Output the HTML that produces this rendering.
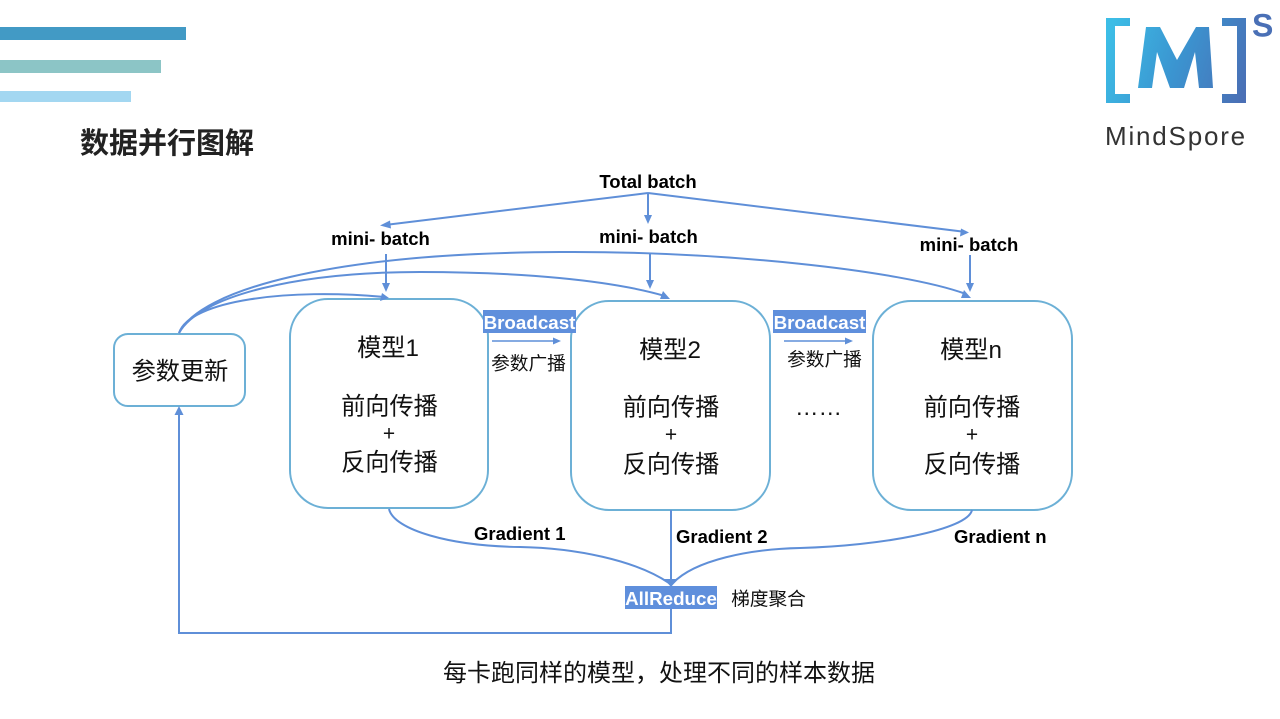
<!DOCTYPE html>
<html>
<head>
<meta charset="utf-8">
<style>
html,body{margin:0;padding:0;background:#fff;width:1280px;height:719px;overflow:hidden}
svg{display:block}
text{font-family:"Liberation Sans","WenQuanYi Zen Hei","Noto Sans CJK SC",sans-serif;fill:#111}
.b{font-weight:bold;font-size:18.500px;fill:#000}
.c{text-anchor:middle}
.z{font-size:24.200px;text-anchor:middle}
.p{font-size:21px;text-anchor:middle}
.w{font-weight:bold;font-size:18.800px;fill:#fff;text-anchor:middle}
.s{font-size:18.700px;text-anchor:middle}
.box{fill:none;stroke:#6cb0d6;stroke-width:2}
.l{fill:none;stroke:#5f8fd8;stroke-width:2}
.t{fill:none;stroke:#5f8fd8;stroke-width:1.500}
.a{fill:#5f8fd8}
</style>
</head>
<body>
<svg width="1280" height="719" viewBox="0 0 1280 719" xmlns="http://www.w3.org/2000/svg">
<defs>
<linearGradient id="g" gradientUnits="userSpaceOnUse" x1="1106" y1="40" x2="1246" y2="90">
<stop offset="0" stop-color="#3cbde6"/><stop offset="0.5" stop-color="#3b94d0"/><stop offset="1" stop-color="#4a6fb5"/>
</linearGradient>
</defs>
<rect width="1280" height="719" fill="#fff"/>
<rect x="0" y="27" width="186" height="13" fill="#429ac5"/>
<rect x="0" y="60" width="161" height="13" fill="#8cc5c6"/>
<rect x="0" y="91" width="131" height="11" fill="#a3d7f1"/>
<text x="80" y="153" style="font-family:'Noto Sans CJK SC',sans-serif;font-weight:bold;font-size:29px;fill:#222">数据并行图解</text>

<path fill="url(#g)" d="M1106 18h24v8h-15v68h15v9h-24z"/>
<path fill="url(#g)" d="M1222 18h24v85h-24v-9h15v-68h-15z"/>
<path fill="url(#g)" d="M1138 88L1146 27H1160L1177 60L1196 27H1209L1213 88H1199L1195 52L1184 88H1170L1157 52L1152 88Z"/>
<text x="1252" y="36.500" style="font-weight:bold;font-size:32px;fill:#4a70b6">S</text>
<text x="1105" y="145" style="font-size:26px;letter-spacing:1.800px;fill:#333">MindSpore</text>

<rect class="box" x="114" y="334" width="131" height="72" rx="14"/>
<rect class="box" x="290" y="299" width="198" height="209" rx="38"/>
<rect class="box" x="571" y="301" width="199" height="209" rx="38"/>
<rect class="box" x="873" y="301" width="199" height="209" rx="38"/>

<path class="l" d="M648 193L385 225"/>
<path class="a" d="M380 225.500l10-5 1 8z"/>
<path class="l" d="M648 193V218"/>
<path class="a" d="M648 224l-4-9h8z"/>
<path class="l" d="M648 193L966 232"/>
<path class="a" d="M969 232.500l-9 4 1-8z"/>

<path class="l" d="M386 254V288"/><path class="a" d="M386 292l-4-9h8z"/>
<path class="l" d="M650 253V286"/><path class="a" d="M650 289l-4-9h8z"/>
<path class="l" d="M970 255V288"/><path class="a" d="M970 292l-4-9h8z"/>

<path class="l" d="M179 333C190 300 290 288 384 297"/>
<path class="a" d="M389 298l-9 3 2-8z"/>
<path class="l" d="M179 333C200 295 300 272 420 272C520 272 610 280 665 296"/>
<path class="a" d="M670 299l-10 0 3-8z"/>
<path class="l" d="M179 333C200 290 330 253 560 252C720 251 900 270 966 294"/>
<path class="a" d="M971 298l-10 0 3-8z"/>

<path class="l" d="M671 510V586"/>
<path class="l" d="M389 509C394 530 450 546 520 547C575 548 635 560 669 583"/>
<path class="l" d="M972 510C968 530 880 546 800 548C750 549 695 560 673 583"/>
<path class="a" d="M671 587l-7-8h14z"/>
<path class="l" d="M671 608V633H179V412"/>
<path class="a" d="M179 406l4.500 9h-9z"/>

<rect x="483" y="310" width="93" height="23" fill="#5f8fdc"/>
<text class="w" x="529.500" y="329">Broadcast</text>
<rect x="773" y="310" width="93" height="23" fill="#5f8fdc"/>
<text class="w" x="819.500" y="329">Broadcast</text>
<rect x="625" y="586" width="92" height="23" fill="#5f8fdc"/>
<text class="w" x="671" y="605">AllReduce</text>

<path class="t" d="M492 341H556"/><path class="a" d="M561 341l-8-3.500v7z"/>
<path class="t" d="M784 341H848"/><path class="a" d="M853 341l-8-3.500v7z"/>

<text class="b c" x="648" y="188">Total batch</text>
<text class="b c" x="380.500" y="245">mini- batch</text>
<text class="b c" x="648.500" y="243">mini- batch</text>
<text class="b c" x="969" y="251">mini- batch</text>

<text class="z" x="180" y="379.500">参数更新</text>

<text class="z" x="388" y="356">模型1</text>
<text class="z" x="389.500" y="414.500">前向传播</text>
<text class="p" x="389" y="440.500">+</text>
<text class="z" x="389.500" y="470.500">反向传播</text>

<text class="z" x="670" y="358">模型2</text>
<text class="z" x="671" y="415.500">前向传播</text>
<text class="p" x="671" y="441.500">+</text>
<text class="z" x="671" y="472.500">反向传播</text>

<text class="z" x="971" y="358">模型n</text>
<text class="z" x="972" y="415.500">前向传播</text>
<text class="p" x="972" y="441.500">+</text>
<text class="z" x="972" y="472.500">反向传播</text>

<text class="s" x="528.500" y="370">参数广播</text>
<text class="s" x="824.500" y="366">参数广播</text>
<text x="818.500" y="415" style="font-size:23.500px;text-anchor:middle">……</text>

<text class="b" x="474" y="540">Gradient 1</text>
<text class="b" x="676" y="543">Gradient 2</text>
<text class="b" x="954" y="543">Gradient n</text>
<text class="s" x="768.500" y="605.500">梯度聚合</text>

<text x="659" y="681" style="font-size:24px;text-anchor:middle">每卡跑同样的模型，处理不同的样本数据</text>
</svg>
</body>
</html>
